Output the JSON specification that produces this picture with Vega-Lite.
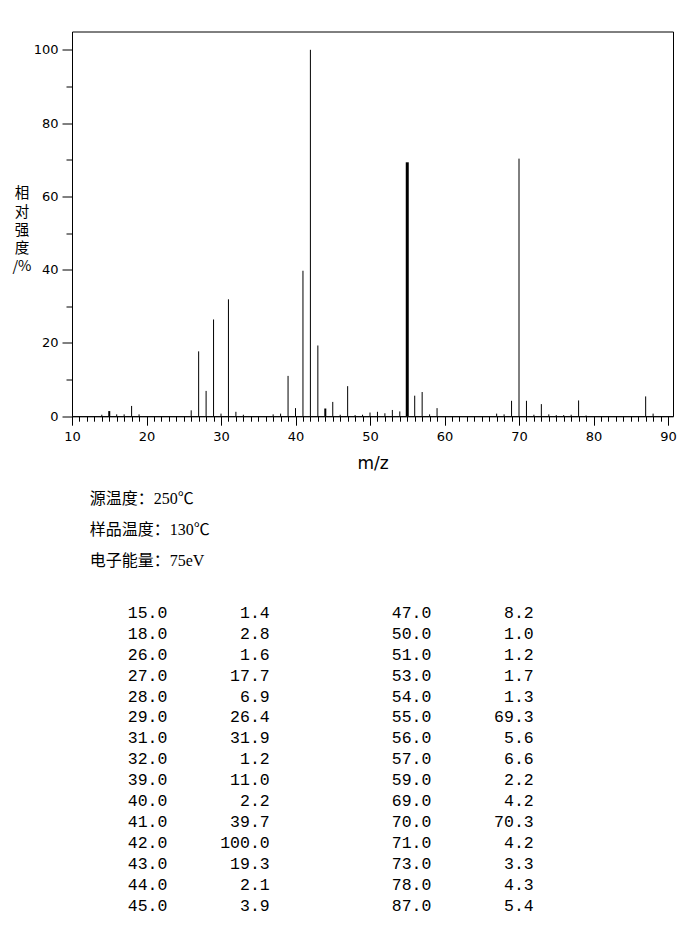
{
  "$schema": "https://vega.github.io/schema/vega-lite/v6.json",
  "background": "white",
  "padding": {"left": 11, "top": 30.5, "right": 0, "bottom": 0},
  "spacing": 10,
  "config": {"view": {"stroke": null}},
  "datasets": {
    "peaks": [
      {"mz": 14, "intensity": 0.4, "listed": false},
      {"mz": 15, "intensity": 1.4, "listed": true},
      {"mz": 16, "intensity": 0.5, "listed": false},
      {"mz": 17, "intensity": 0.5, "listed": false},
      {"mz": 18, "intensity": 2.8, "listed": true},
      {"mz": 19, "intensity": 0.5, "listed": false},
      {"mz": 26, "intensity": 1.6, "listed": true},
      {"mz": 27, "intensity": 17.7, "listed": true},
      {"mz": 28, "intensity": 6.9, "listed": true},
      {"mz": 29, "intensity": 26.4, "listed": true},
      {"mz": 30, "intensity": 0.7, "listed": false},
      {"mz": 31, "intensity": 31.9, "listed": true},
      {"mz": 32, "intensity": 1.2, "listed": true},
      {"mz": 33, "intensity": 0.4, "listed": false},
      {"mz": 37, "intensity": 0.5, "listed": false},
      {"mz": 38, "intensity": 0.7, "listed": false},
      {"mz": 39, "intensity": 11.0, "listed": true},
      {"mz": 40, "intensity": 2.2, "listed": true},
      {"mz": 41, "intensity": 39.7, "listed": true},
      {"mz": 42, "intensity": 100.0, "listed": true},
      {"mz": 43, "intensity": 19.3, "listed": true},
      {"mz": 44, "intensity": 2.1, "listed": true},
      {"mz": 45, "intensity": 3.9, "listed": true},
      {"mz": 46, "intensity": 0.4, "listed": false},
      {"mz": 47, "intensity": 8.2, "listed": true},
      {"mz": 48, "intensity": 0.3, "listed": false},
      {"mz": 49, "intensity": 0.4, "listed": false},
      {"mz": 50, "intensity": 1.0, "listed": true},
      {"mz": 51, "intensity": 1.2, "listed": true},
      {"mz": 52, "intensity": 0.8, "listed": false},
      {"mz": 53, "intensity": 1.7, "listed": true},
      {"mz": 54, "intensity": 1.3, "listed": true},
      {"mz": 55, "intensity": 69.3, "listed": true},
      {"mz": 56, "intensity": 5.6, "listed": true},
      {"mz": 57, "intensity": 6.6, "listed": true},
      {"mz": 58, "intensity": 0.5, "listed": false},
      {"mz": 59, "intensity": 2.2, "listed": true},
      {"mz": 67, "intensity": 0.7, "listed": false},
      {"mz": 68, "intensity": 0.5, "listed": false},
      {"mz": 69, "intensity": 4.2, "listed": true},
      {"mz": 70, "intensity": 70.3, "listed": true},
      {"mz": 71, "intensity": 4.2, "listed": true},
      {"mz": 72, "intensity": 0.4, "listed": false},
      {"mz": 73, "intensity": 3.3, "listed": true},
      {"mz": 74, "intensity": 0.5, "listed": false},
      {"mz": 75, "intensity": 0.3, "listed": false},
      {"mz": 76, "intensity": 0.3, "listed": false},
      {"mz": 77, "intensity": 0.4, "listed": false},
      {"mz": 78, "intensity": 4.3, "listed": true},
      {"mz": 79, "intensity": 0.2, "listed": false},
      {"mz": 87, "intensity": 5.4, "listed": true},
      {"mz": 88, "intensity": 0.7, "listed": false}
    ],
    "info": [
      {"label": "源温度：250℃"},
      {"label": "样品温度：130℃"},
      {"label": "电子能量：75eV"}
    ]
  },
  "vconcat": [
    {
      "width": 601,
      "height": 384.7,
      "view": {"stroke": "black", "strokeWidth": 1},
      "data": {"name": "peaks"},
      "mark": {"type": "rule", "color": "black"},
      "encoding": {
        "x": {
          "field": "mz",
          "type": "quantitative",
          "scale": {"domain": [10, 90.67], "nice": false, "zero": false},
          "axis": {
            "values": [10,11,12,13,14,15,16,17,18,19,20,21,22,23,24,25,26,27,28,29,30,31,32,33,34,35,36,37,38,39,40,41,42,43,44,45,46,47,48,49,50,51,52,53,54,55,56,57,58,59,60,61,62,63,64,65,66,67,68,69,70,71,72,73,74,75,76,77,78,79,80,81,82,83,84,85,86,87,88,89,90],
            "labelExpr": "datum.value % 10 === 0 ? datum.label : ''",
            "tickSize": {"condition": {"test": "datum.value % 10 === 0", "value": 9}, "value": 5},
            "labelFlush": false,
            "labelOverlap": false,
            "grid": false,
            "domainColor": "black",
            "tickColor": "black",
            "labelColor": "black",
            "labelFont": "DejaVu Sans",
            "labelFontSize": 13,
            "labelPadding": 5,
            "title": "m/z",
            "titleFont": "DejaVu Sans",
            "titleFontSize": 17,
            "titleFontWeight": "normal",
            "titleColor": "black",
            "titlePadding": 12
          }
        },
        "y": {
          "field": "intensity",
          "type": "quantitative",
          "scale": {"domain": [0, 105], "nice": false},
          "axis": {
            "values": [0,10,20,30,40,50,60,70,80,90,100],
            "labelExpr": "datum.value % 20 === 0 ? datum.label : ''",
            "tickSize": {"condition": {"test": "datum.value % 20 === 0", "value": 10}, "value": 6},
            "grid": false,
            "domainColor": "black",
            "tickColor": "black",
            "labelColor": "black",
            "labelFont": "DejaVu Sans",
            "labelFontSize": 13,
            "labelPadding": 4,
            "title": ["相", "对", "强", "度", "/%"],
            "titleAngle": 0,
            "titleX": -50.6,
            "titleY": 162.3,
            "titleAlign": "center",
            "titleBaseline": "middle",
            "titleFont": "Noto Sans CJK SC",
            "titleFontSize": 14.5,
            "titleLineHeight": 18.3,
            "titleFontWeight": "normal",
            "titleColor": "black"
          }
        },
        "y2": {"datum": 0},
        "strokeWidth": {
          "condition": [
            {"test": "datum.mz === 55", "value": 3},
            {"test": "datum.mz === 15 || datum.mz === 44", "value": 2}
          ],
          "value": 1
        }
      }
    },
    {
      "width": 600,
      "height": 94,
      "data": {"name": "info"},
      "mark": {"type": "text", "align": "left", "baseline": "middle", "font": "Liberation Serif, Noto Sans CJK SC", "fontSize": 16, "color": "black"},
      "encoding": {
        "y": {"field": "label", "type": "nominal", "sort": null, "scale": {"type": "point", "padding": 0, "range": [16.3, 78.9]}, "axis": null},
        "x": {"value": 17.7},
        "text": {"field": "label"}
      }
    },
    {
      "width": 600,
      "height": 322,
      "data": {"name": "peaks"},
      "transform": [
        {"filter": "datum.listed"},
        {"window": [{"op": "row_number", "as": "n"}], "sort": [{"field": "mz", "order": "ascending"}]},
        {"calculate": "datum.n > 15 ? 1 : 0", "as": "col"},
        {"calculate": "(datum.n - 1) % 15", "as": "row"}
      ],
      "encoding": {
        "x": {"field": "col", "type": "quantitative", "scale": {"domain": [0, 1], "range": [95.4, 359.4]}, "axis": null},
        "y": {"field": "row", "type": "ordinal", "scale": {"type": "point", "padding": 0, "range": [26.2, 319.5]}, "axis": null}
      },
      "layer": [
        {
          "mark": {"type": "text", "align": "right", "baseline": "middle", "font": "Liberation Mono", "fontSize": 16.5, "color": "black"},
          "encoding": {"text": {"field": "mz", "type": "quantitative", "format": ".1f"}}
        },
        {
          "mark": {"type": "text", "align": "right", "baseline": "middle", "font": "Liberation Mono", "fontSize": 16.5, "color": "black", "dx": 102.3},
          "encoding": {"text": {"field": "intensity", "type": "quantitative", "format": ".1f"}}
        }
      ]
    }
  ]
}
